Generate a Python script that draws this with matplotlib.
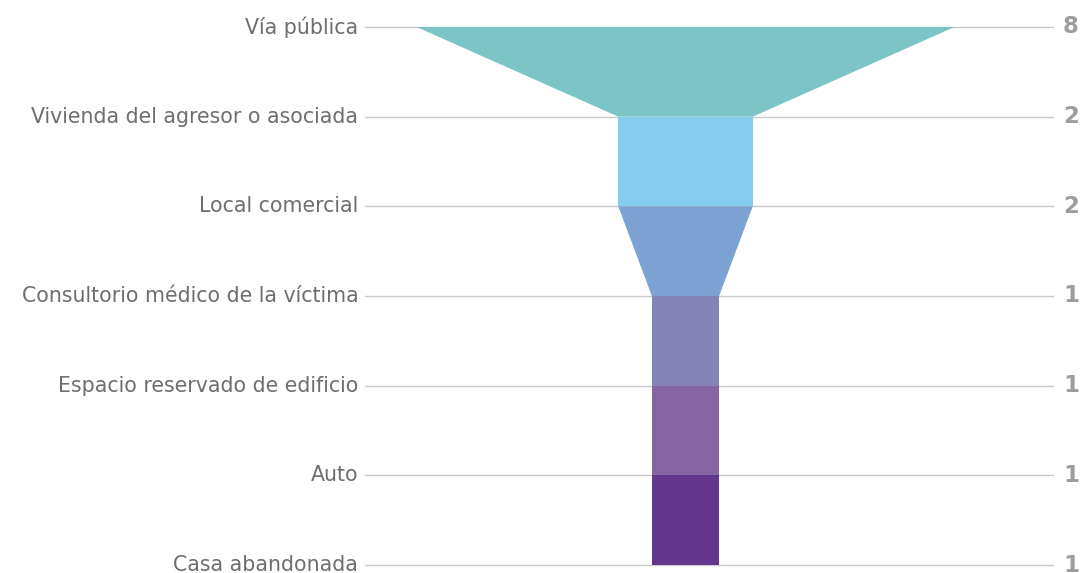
import matplotlib.pyplot as plt
from matplotlib.patches import Polygon

categories = ['Vía pública', 'Vivienda del agresor o asociada', 'Local comercial',
              'Consultorio médico de la víctima', 'Espacio reservado de edificio',
              'Auto', 'Casa abandonada']
values = [8, 2, 2, 1, 1, 1, 1]
colors = ['#7cc4c6', '#86ccf0', '#7ba2d2', '#8483b7', '#8565a3', '#63378b']

plt.rcParams['font.family'] = ['DejaVu Sans']

fig = plt.figure(figsize=(10.85, 5.73), dpi=100)
ax = fig.add_axes([0, 0, 1, 1])

# pixel geometry -> data limits
px_unit = 67.25
cx = 685.5
ax.set_xlim(-cx / px_unit, (1085 - cx) / px_unit)
ax.set_ylim(6 + 8 / 89.67, -27 / 89.67)
ax.axis('off')

n = len(values)
line_l = (365 - cx) / px_unit
line_r = (1053 - cx) / px_unit

# grid lines
for i in range(n):
    ax.plot([line_l, line_r], [i, i], color='#c8c8cc', lw=1, zorder=1)

# funnel segments
for i in range(n - 1):
    a, b = values[i] / 2, values[i + 1] / 2
    poly = Polygon([(-a, i), (a, i), (b, i + 1), (-b, i + 1)],
                   closed=True, facecolor=colors[i], edgecolor='none', zorder=2)
    ax.add_patch(poly)

# labels
for i, (cat, v) in enumerate(zip(categories, values)):
    ax.text(line_l - 0.1, i, cat, ha='right', va='center', fontsize=14.8, color='#6d6e71')
    ax.text(line_r + 0.15, i, str(v), ha='left', va='center', fontsize=16.5,
            fontweight='bold', color='#9d9d9f')

fig.savefig('out.png', dpi=100)
